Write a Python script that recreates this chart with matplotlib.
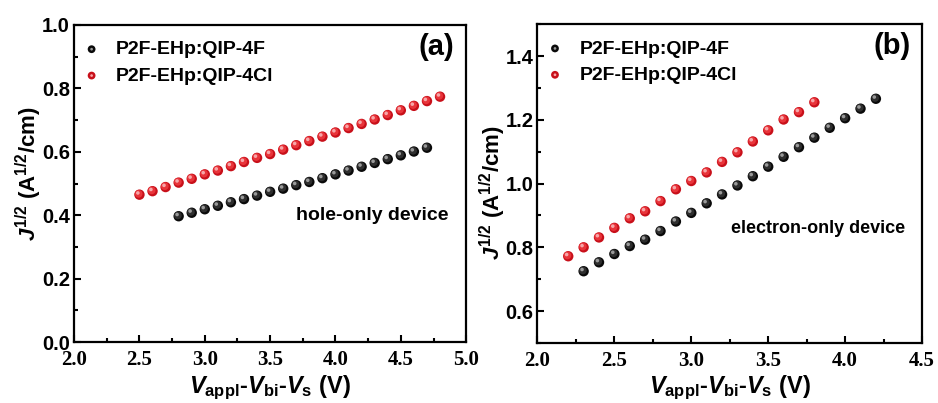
import matplotlib
matplotlib.use('Agg')
import matplotlib.pyplot as plt
import matplotlib.transforms as mtransforms
from matplotlib.legend_handler import HandlerTuple
from matplotlib.ticker import MultipleLocator

# panel (a): hole-only device
hole_v_4f = [2.8, 2.9, 3.0, 3.1, 3.2, 3.3, 3.4, 3.5, 3.6, 3.7,
             3.8, 3.9, 4.0, 4.1, 4.2, 4.3, 4.4, 4.5, 4.6, 4.7]
hole_j_4f = [0.397, 0.408, 0.419, 0.430, 0.441, 0.451, 0.462, 0.474, 0.484, 0.495,
             0.505, 0.517, 0.529, 0.541, 0.553, 0.565, 0.577, 0.589, 0.601, 0.613]
hole_v_4cl = [2.5, 2.6, 2.7, 2.8, 2.9, 3.0, 3.1, 3.2, 3.3, 3.4, 3.5, 3.6,
              3.7, 3.8, 3.9, 4.0, 4.1, 4.2, 4.3, 4.4, 4.5, 4.6, 4.7, 4.8]
hole_j_4cl = [0.465, 0.476, 0.489, 0.503, 0.515, 0.529, 0.541, 0.555, 0.568, 0.581, 0.593, 0.607,
              0.621, 0.634, 0.648, 0.661, 0.675, 0.688, 0.702, 0.716, 0.731, 0.745, 0.760, 0.774]

# panel (b): electron-only device
elec_v_4f = [2.3, 2.4, 2.5, 2.6, 2.7, 2.8, 2.9, 3.0, 3.1, 3.2,
             3.3, 3.4, 3.5, 3.6, 3.7, 3.8, 3.9, 4.0, 4.1, 4.2]
elec_j_4f = [0.725, 0.753, 0.779, 0.804, 0.824, 0.851, 0.881, 0.908, 0.938, 0.966,
             0.994, 1.023, 1.053, 1.084, 1.114, 1.144, 1.175, 1.205, 1.235, 1.266]
elec_v_4cl = [2.2, 2.3, 2.4, 2.5, 2.6, 2.7, 2.8, 2.9, 3.0,
              3.1, 3.2, 3.3, 3.4, 3.5, 3.6, 3.7, 3.8]
elec_j_4cl = [0.772, 0.800, 0.831, 0.861, 0.891, 0.913, 0.945, 0.982, 1.008,
              1.035, 1.068, 1.098, 1.132, 1.167, 1.201, 1.224, 1.255]

labels = ['P2F-EHp:QIP-4F', 'P2F-EHp:QIP-4Cl']

plt.rcParams['font.family'] = ['Liberation Sans', 'DejaVu Sans']
plt.rcParams['font.weight'] = 'bold'
plt.rcParams['axes.labelweight'] = 'bold'
plt.rcParams['mathtext.fontset'] = 'custom'
plt.rcParams['mathtext.rm'] = 'Liberation Sans:bold'
plt.rcParams['mathtext.bf'] = 'Liberation Sans:bold'
plt.rcParams['mathtext.it'] = 'Liberation Sans:italic:bold'

fig = plt.figure(figsize=(9.38, 4.03), dpi=100)
ax_a = fig.add_axes([0.079, 0.151, 0.418, 0.787])
ax_b = fig.add_axes([0.573, 0.149, 0.410, 0.791])


def balls(ax, x, y, base, mid, shine, s=56):
    # fake a shaded sphere: dark body, lighter core, small highlight up-left
    h0 = ax.scatter(x, y, s=s, color=base, edgecolors='none', zorder=3)
    tr = mtransforms.offset_copy(ax.transData, fig=fig, x=-0.8, y=0.8, units='dots')
    ax.scatter(x, y, s=s * 0.55, color=mid, edgecolors='none', zorder=4, transform=tr)
    tr2 = mtransforms.offset_copy(ax.transData, fig=fig, x=-1.6, y=1.7, units='dots')
    h1 = ax.scatter(x, y, s=s * 0.12, color=shine, edgecolors='none', zorder=5, transform=tr2)
    return (h0, h1)


def style(ax, xlim, ylim, ymaj, ymin, ylab_xy):
    ax.set_xlim(*xlim)
    ax.set_ylim(*ylim)
    ax.xaxis.set_major_locator(MultipleLocator(0.5))
    ax.xaxis.set_minor_locator(MultipleLocator(0.25))
    ax.yaxis.set_major_locator(MultipleLocator(ymaj))
    ax.yaxis.set_minor_locator(MultipleLocator(ymin))
    ax.tick_params(which='both', direction='in', top=False, right=False, width=1.5)
    ax.tick_params(which='major', length=5)
    ax.tick_params(which='minor', length=3)
    ax.tick_params(axis='y', labelsize=14.5, pad=3)
    ax.tick_params(axis='x', labelsize=15, pad=6, labelfontfamily='Liberation Serif')
    for sp in ax.spines.values():
        sp.set_linewidth(1.6)
    ax.set_xlabel(r'$V_{\rm appl}$-$V_{\rm bi}$-$V_{\rm s}$ (V)', fontsize=17, labelpad=2)
    ax.set_ylabel(r'$J^{1/2}$ (A$^{1/2}$/cm)', fontsize=16)
    ax.yaxis.set_label_coords(*ylab_xy)


for ax, d4f, d4cl, xlim, ylim, ylab_xy, tag, note, note_xy, note_fs in [
    (ax_a, (hole_v_4f, hole_j_4f), (hole_v_4cl, hole_j_4cl), (2.0, 5.0), (0.0, 1.0),
     (-0.077, 0.53), '(a)', 'hole-only device', (0.955, 0.40), 14),
    (ax_b, (elec_v_4f, elec_j_4f), (elec_v_4cl, elec_j_4cl), (2.0, 4.5), (0.5, 1.5),
     (-0.077, 0.47), '(b)', 'electron-only device', (0.955, 0.36), 13),
]:
    hb = balls(ax, *d4f, '#0a0a0a', '#2e2e2e', '#9a9a9a')
    hr = balls(ax, *d4cl, '#c8101a', '#e8343a', '#f7a6a8')
    style(ax, xlim, ylim, 0.2, 0.1, ylab_xy)
    ax.text(0.97, 0.93, tag, transform=ax.transAxes, ha='right', va='center',
            fontsize=21, fontweight='bold')
    ax.text(note_xy[0], note_xy[1], note, transform=ax.transAxes, ha='right', va='center',
            fontsize=note_fs, fontweight='bold')
    ax.legend([hb, hr], labels, loc='upper left', bbox_to_anchor=(0.0, 0.975),
              frameon=False, fontsize=14, handlelength=1.0, handletextpad=0.75,
              labelspacing=0.45, borderaxespad=0.1, borderpad=0.3,
              handler_map={tuple: HandlerTuple(ndivide=1, pad=0)}, markerscale=0.75)

fig.savefig('out.png', dpi=100)
